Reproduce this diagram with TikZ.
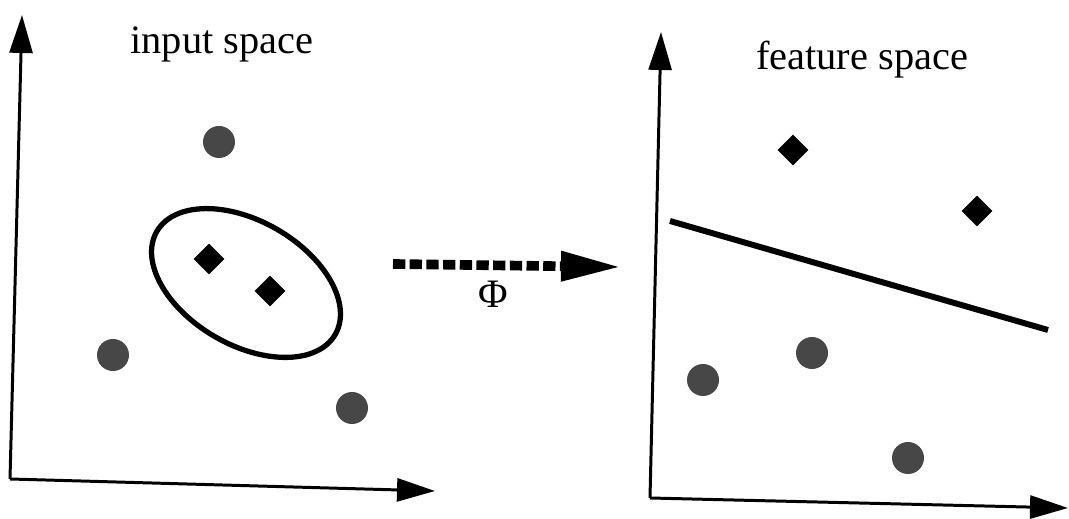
\documentclass[tikz,border=0pt]{standalone}
\usepackage{fontspec}
\setmainfont{Liberation Serif}
\usetikzlibrary{arrows.meta,shapes.geometric}

\begin{document}
\begin{tikzpicture}[
  x=0.02cm, y=-0.02cm,
  font=\fontsize{23}{27}\selectfont,
  axis/.style={-{Triangle[length=7.6mm,width=4.6mm]},line width=1.7pt},
  pt/.style={circle,fill=black!72,minimum size=6.4mm,inner sep=0pt},
  dia/.style={diamond,fill=black,minimum size=6.2mm,inner sep=0pt},
  map/.style={-{Triangle[length=12mm,width=5.6mm]},line width=5.5pt,dash pattern=on 7pt off 2.5pt},
  sep/.style={line width=3.4pt},
  ring/.style={line width=3pt},
]
\useasboundingbox (0,0) rectangle (1069,519);

% input space
\coordinate (o1) at (10,479);
\coordinate (y1) at (22,15);
\coordinate (x1) at (435,491);
\draw[axis] (o1) -- (y1);
\draw[axis] (o1) -- (x1);
\node (lbl1) at (222,44) {input space};
\draw[ring,rotate around={-30:(246,283)}] (246,283) ellipse [x radius=103, y radius=62];
\node[pt] (a1) at (219,142) {};
\node[pt] (a2) at (113,355) {};
\node[pt] (a3) at (352,408) {};
\node[dia] (d1) at (209,259) {};
\node[dia] (d2) at (270,291) {};

% mapping
\coordinate (m1) at (393,264);
\coordinate (m2) at (621,267);
\draw[map] (m1) -- (m2);
\node (phi) at (493,294) {Φ};

% feature space
\coordinate (o2) at (650,498);
\coordinate (y2) at (661,32);
\coordinate (x2) at (1068,508);
\draw[axis] (o2) -- (y2);
\draw[axis] (o2) -- (x2);
\node (lbl2) at (862,60) {feature space};
\coordinate (h1) at (670,221);
\coordinate (h2) at (1048,330);
\draw[sep] (h1) -- (h2);
\node[dia] (d3) at (793,150) {};
\node[dia] (d4) at (977,211) {};
\node[pt] (b1) at (703,380) {};
\node[pt] (b2) at (812,353) {};
\node[pt] (b3) at (908,458) {};
\end{tikzpicture}
\end{document}
